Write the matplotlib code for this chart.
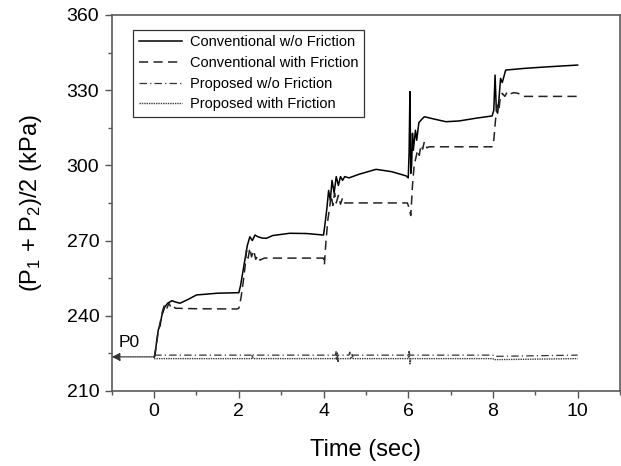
import matplotlib
matplotlib.use("Agg")
import matplotlib.pyplot as plt
from matplotlib.ticker import MultipleLocator

plt.rcParams['font.family'] = ['Liberation Sans', 'DejaVu Sans']
plt.rcParams['mathtext.fontset'] = 'custom'
plt.rcParams['mathtext.rm'] = 'Liberation Sans'
plt.rcParams['mathtext.it'] = 'Liberation Sans'

# ---------------- data ----------------
conv_nof_t = [0, 0.02, 0.06, 0.1, 0.14, 0.18, 0.25, 0.32, 0.42, 0.5, 0.61, 0.8, 1.0, 1.5, 2.0,
              2.04, 2.1, 2.15, 2.2, 2.26, 2.32, 2.38, 2.45, 2.55, 2.65, 2.8, 3.2, 3.6, 4.0,
              4.03, 4.08, 4.12, 4.16, 4.2, 4.25, 4.3, 4.35, 4.4, 4.45, 4.5, 4.6, 4.85, 5.24, 5.6, 5.95,
              6.0, 6.02, 6.04, 6.06, 6.08, 6.1, 6.12, 6.17, 6.2, 6.25, 6.3, 6.38, 6.6, 6.89, 7.2, 7.6, 7.98,
              8.02, 8.05, 8.08, 8.11, 8.14, 8.18, 8.22, 8.3, 8.5, 8.76, 9.3, 10.0]
conv_nof_p = [223.5, 224, 230, 234.5, 236, 240, 243.5, 245, 246, 245.5, 245, 246.5, 248.3, 249, 249.2,
              252, 258, 263, 268, 271.5, 270, 272.2, 271.5, 271, 270.9, 272, 272.9, 272.8, 272.2,
              276, 283, 290, 286, 294, 289, 295.5, 292, 295.5, 294, 295.5, 295, 296.5, 298.4, 297.5, 295.8,
              295, 305, 329.4, 296.8, 300, 312.8, 306, 314, 310, 317, 318, 319.4, 318.5, 317.4, 317.7, 318.8, 319.7,
              322, 336, 322, 320.8, 326, 334.7, 333, 338, 338.3, 338.7, 339.3, 340]

conv_fr_t = [0, 0.05, 0.1, 0.15, 0.2, 0.25, 0.3, 0.35, 0.4, 0.45, 0.5, 1.0, 1.95,
             2.0, 2.05, 2.1, 2.15, 2.18, 2.22, 2.26, 2.3, 2.35, 2.4, 2.45, 2.5, 2.6, 4.0,
             4.02, 4.05, 4.1, 4.15, 4.18, 4.22, 4.26, 4.3, 4.35, 4.4, 4.45, 4.5, 4.6, 5.98,
             6.02, 6.06, 6.1, 6.14, 6.18, 6.22, 6.26, 6.3, 6.34, 6.38, 6.44, 6.5, 7.98,
             8.02, 8.06, 8.1, 8.14, 8.18, 8.22, 8.28, 8.34, 8.4, 8.5, 8.6, 8.69, 10.0]
conv_fr_p = [223.5, 228, 234, 238, 242, 244.5, 243, 245, 243.3, 244, 243, 242.8, 242.7,
             243, 247, 253, 260, 266, 263, 267, 263.5, 266, 262.5, 264, 262.2, 263, 263,
             260.3, 268, 278, 284, 288, 284, 289, 285, 288, 284.5, 287, 285, 285, 285,
             283, 280, 292, 300, 303, 306, 304, 308, 306.5, 309.4, 307, 307.4, 307.4,
             310, 318, 324, 322, 328, 328.7, 327.5, 329.4, 328.5, 329, 328.7, 327.5, 327.5]

prop_nof_t = [0, 2.3, 2.32, 2.34, 4.28, 4.3, 4.32, 4.34, 4.6, 4.62, 4.64, 4.66, 6.0, 6.02, 6.04, 8.0, 8.02, 10.0]
prop_nof_p = [224.3, 224.3, 225, 224.3, 224.3, 226, 222.5, 224.3, 224.3, 225.5, 223, 224.3, 224.3, 225.5, 224.3, 224.3, 223.8, 224.3]

prop_fr_t = [0, 2.3, 2.32, 2.34, 4.3, 4.32, 4.34, 4.36, 4.66, 4.68, 4.7, 6.0, 6.02, 6.04, 6.06, 8.0, 8.02, 10.0]
prop_fr_p = [222.9, 222.9, 224, 222.9, 222.9, 225.5, 221.5, 222.9, 222.9, 224.5, 222.9, 222.9, 226, 220.5, 222.9, 222.9, 222.5, 222.9]

p0_value = 223.6
labels = ["Conventional w/o Friction", "Conventional with Friction",
          "Proposed w/o Friction", "Proposed with Friction"]
xticks = [0, 2, 4, 6, 8, 10]
yticks = [210, 240, 270, 300, 330, 360]

# ---------------- figure ----------------
fig = plt.figure(figsize=(6.21, 4.66), dpi=100)
ax = fig.add_axes([0.18, 0.161, 0.8184, 0.807])

ax.plot(conv_nof_t, conv_nof_p, color='black', lw=1.1, ls='-', label=labels[0])
ax.plot(conv_fr_t, conv_fr_p, color='#222222', lw=1.1, ls=(0, (6, 3.5)), label=labels[1])
ax.plot(prop_nof_t, prop_nof_p, color='#333333', lw=0.9, ls=(0, (6, 2.5, 1, 2.5)), label=labels[2])
ax.plot(prop_fr_t, prop_fr_p, color='#3a3a3a', lw=1.0, ls=(0, (1, 0.7)), label=labels[3])

# P0 arrow
ax.annotate("", xy=(-1.0, p0_value), xytext=(0, p0_value),
            arrowprops=dict(arrowstyle='-|>', color='#333333', lw=0.9, ls=(0, (1, 0.8)),
                            mutation_scale=12, shrinkA=0, shrinkB=0))
ax.text(-0.6, 229.5, "P0", fontsize=12.5, ha='center', va='center')

ax.set_xlim(-1, 11)
ax.set_ylim(210, 360)
ax.set_xticks(xticks)
ax.set_yticks(yticks)
ax.xaxis.set_minor_locator(MultipleLocator(1))
ax.yaxis.set_minor_locator(MultipleLocator(15))
ax.tick_params(which='major', direction='out', length=5, width=1, color='#555555',
               labelsize=14, pad=4)
ax.tick_params(which='minor', direction='out', length=3, width=1, color='#555555')
ax.tick_params(top=False, right=False, which='both')
for s in ax.spines.values():
    s.set_color('#5a5a5a')
    s.set_linewidth(1.2)

ax.set_xlabel("Time (sec)", fontsize=17, labelpad=13)
ax.set_ylabel("(P$_1$ + P$_2$)/2 (kPa)", fontsize=17, labelpad=16)

leg = ax.legend(loc='upper left', bbox_to_anchor=(0.042, 0.96), borderaxespad=0,
                fontsize=10.5, handlelength=3.0, handletextpad=0.5, labelspacing=0.45,
                frameon=True, fancybox=False, edgecolor='black', borderpad=0.38)
leg.get_frame().set_linewidth(0.9)

fig.savefig("out.png", dpi=100)
